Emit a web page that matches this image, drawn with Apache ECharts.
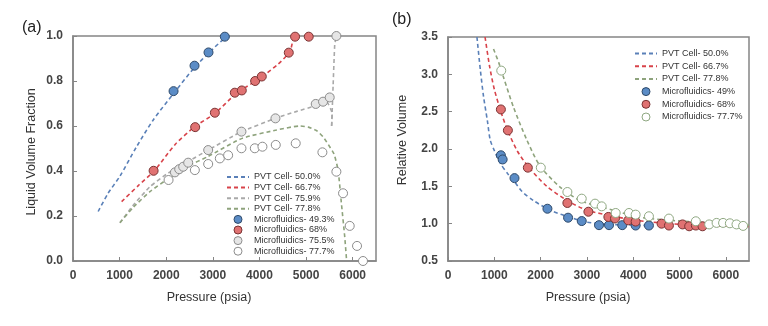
<!DOCTYPE html>
<html>
<head>
<meta charset="utf-8">
<script src="https://cdn.jsdelivr.net/npm/echarts@6/dist/echarts.min.js"></script>
<style>
html,body{margin:0;padding:0;background:#fff;}
#chart{width:768px;height:326px;}
</style>
</head>
<body>
<div id="chart"></div>
<script>
// ---------- Panel (a): Liquid Volume Fraction ----------
const xTicks = [0, 1000, 2000, 3000, 4000, 5000, 6000];
const pvt50a = [[540,0.22],[750,0.30],[1007,0.377],[1364,0.508],[1721,0.627],[2186,0.752],[2614,0.862],[2914,0.925],[3257,0.99],[3400,1.0]];
const pvt667a = [[1043,0.264],[1400,0.335],[1757,0.404],[2200,0.52],[2614,0.597],[3043,0.656],[3507,0.745],[4007,0.812],[4400,0.875],[4650,0.93],[4700,0.965],[4730,1.0]];
const pvt759a = [[1007,0.17],[1300,0.25],[1650,0.33],[2000,0.385],[2450,0.44],[2900,0.493],[3614,0.575],[4343,0.634],[4800,0.665],[5207,0.69],[5430,0.71],[5560,0.655],[5548,0.6]];
const pvt759aTop = [[5548,0.6],[5580,0.78],[5614,0.96],[5650,1.0]];
const pvt778a = [[1007,0.17],[1300,0.24],[1650,0.308],[2000,0.36],[2450,0.42],[2900,0.465],[3629,0.545],[4364,0.582],[4864,0.60],[5050,0.595],[5221,0.58],[5364,0.552],[5500,0.51],[5600,0.475],[5686,0.404],[5757,0.258],[5829,0.108],[5870,0.0]];

const mf493aP = [2157, 2607, 2907, 3257];
const mf493aV = [0.755, 0.868, 0.927, 0.997];
const mf68aP = [1729, 2621, 3043, 3471, 3621, 3907, 4050, 4629, 4764, 5057];
const mf68aV = [0.401, 0.595, 0.659, 0.748, 0.758, 0.800, 0.820, 0.926, 0.997, 0.997];
const mf755aP = [2186, 2278, 2364, 2471, 2900, 3614, 4343, 5207, 5364, 5507, 5650];
const mf755aV = [0.394, 0.408, 0.419, 0.437, 0.493, 0.575, 0.634, 0.698, 0.708, 0.727, 1.0];
const mf777aP = [2050, 2614, 2900, 3150, 3328, 3614, 3900, 4064, 4350, 4778, 5350, 5650, 5793, 5936, 6093, 6221];
const mf777aV = [0.36, 0.404, 0.431, 0.456, 0.47, 0.501, 0.501, 0.508, 0.516, 0.523, 0.483, 0.397, 0.301, 0.156, 0.067, 0.0];

// ---------- Panel (b): Relative Volume ----------
const pvt50b = [[625,3.5],[700,3.05],[768,2.70],[850,2.38],[912,2.12],[1000,1.98],[1127,1.81],[1300,1.66],[1414,1.58],[1600,1.43],[1845,1.31],[2205,1.18],[2708,1.07],[2996,1.02],[3500,0.99],[4400,0.975]];
const pvt667b = [[800,3.5],[900,3.1],[1000,2.8],[1142,2.5],[1293,2.24],[1500,1.97],[1738,1.76],[2134,1.50],[2600,1.30],[3000,1.18],[3570,1.10],[4000,1.05],[4600,1.01],[5200,0.985],[6500,0.96]];
const pvt778b = [[983,3.34],[1100,3.15],[1199,2.96],[1414,2.56],[1703,2.12],[1990,1.77],[2421,1.49],[2852,1.31],[3570,1.18],[4100,1.09],[4795,1.045],[5940,1.0],[6500,0.98]];

const mf49bP = [1142, 1180, 1436, 2147, 2593, 2888, 3261, 3477, 3763, 4052, 4339];
const mf49bV = [1.916, 1.86, 1.61, 1.20, 1.08, 1.035, 0.98, 0.98, 0.98, 0.975, 0.975];
const mf68bP = [1142, 1293, 1724, 2578, 3032, 3463, 3606, 3893, 4052, 4612, 4771, 5065, 5208, 5352, 5496];
const mf68bV = [2.53, 2.25, 1.75, 1.277, 1.16, 1.09, 1.07, 1.045, 1.028, 1.0, 0.975, 0.99, 0.965, 0.975, 0.965];
const mf777bP = [1150, 2004, 2578, 2888, 3175, 3319, 3621, 3908, 4052, 4339, 4771, 5352, 5640, 5800, 5940, 6087, 6230, 6373];
const mf777bV = [3.05, 1.75, 1.424, 1.335, 1.268, 1.232, 1.143, 1.143, 1.121, 1.099, 1.068, 1.032, 0.99, 1.01, 1.01, 1.005, 0.99, 0.97];

const zip = (p, v) => p.map((x, i) => [x, v[i]]);

const C = {
  blueL: '#5a80b8', redL: '#d8434a', grayL: '#a9a9a9', greenL: '#8ea37c',
  blueF: '#5b8cc6', blueB: '#2f4a6a', redF: '#e07272', redB: '#7a3434',
  grayF: '#e6e6e6', grayB: '#8c8c8c', whiteF: '#ffffff', greenB: '#8fa882'
};
const FONT = 'Liberation Sans, Arial, sans-serif';
const dash = [4, 3];

function lineS(name, data, color, xi, extra) {
  return Object.assign({
    name, type: 'line', data, xAxisIndex: xi, yAxisIndex: xi,
    symbol: 'none', smooth: 0.25, z: 2, silent: true,
    lineStyle: { color, width: 1.6, type: dash }, itemStyle: { color }
  }, extra || {});
}
function scatS(name, data, fill, border, xi) {
  return {
    name, type: 'scatter', data, xAxisIndex: xi, yAxisIndex: xi,
    symbol: 'circle', symbolSize: 9, z: 5, silent: true,
    itemStyle: { color: fill, borderColor: border, borderWidth: 1, opacity: 1 }
  };
}
function xAx(gi) {
  return {
    type: 'value', gridIndex: gi, min: 0, max: 6500, interval: 1000,
    axisLine: { show: true, onZero: false, lineStyle: { color: '#858585', width: 1.5 } },
    axisTick: { show: true, inside: true, length: 4, lineStyle: { color: '#858585' } },
    axisLabel: { showMaxLabel: false, fontFamily: FONT, fontSize: 12, color: '#444', margin: 9, fontWeight: 'bold',
      formatter: v => String(v) },
    splitLine: { show: false }
  };
}
function yAx(gi, min, max, interval) {
  return {
    type: 'value', gridIndex: gi, min, max, interval,
    axisLine: { show: true, onZero: false, lineStyle: { color: '#858585', width: 1.5 } },
    axisTick: { show: true, inside: true, length: 4, lineStyle: { color: '#858585' } },
    axisLabel: { fontFamily: FONT, fontSize: 12, color: '#444', margin: 10, fontWeight: 'bold',
      formatter: v => v.toFixed(1) },
    splitLine: { show: false }
  };
}
const legText = { fontFamily: FONT, fontSize: 9, color: '#333' };
const noSym = { opacity: 0 };

const option = {
  animation: false,
  backgroundColor: '#fff',
  grid: [
    { left: 73, right: 392, top: 36, bottom: 65, show: true, borderColor: '#858585', borderWidth: 1.5 },
    { left: 448, right: 19, top: 37, bottom: 65, show: true, borderColor: '#858585', borderWidth: 1.5 }
  ],
  xAxis: [xAx(0), xAx(1)],
  yAxis: [yAx(0, 0, 1, 0.2), yAx(1, 0.5, 3.5, 0.5)],
  legend: [
    {
      orient: 'vertical', left: 221, top: 167, itemWidth: 22, itemHeight: 8, itemGap: 0.6,
      textStyle: Object.assign({ lineHeight: 10 }, legText), selectedMode: false,
      data: [
        { name: 'PVT Cell- 50.0%', itemStyle: noSym }, { name: 'PVT Cell- 66.7%', itemStyle: noSym },
        { name: 'PVT Cell- 75.9%', itemStyle: noSym }, { name: 'PVT Cell- 77.8%', itemStyle: noSym },
        { name: 'Microfluidics- 49.3%', itemStyle: { color: C.blueF, borderColor: C.blueB, borderWidth: 1 } },
        { name: 'Microfluidics- 68%', itemStyle: { color: C.redF, borderColor: C.redB, borderWidth: 1 } },
        { name: 'Microfluidics- 75.5%', itemStyle: { color: C.grayF, borderColor: C.grayB, borderWidth: 1 } },
        { name: 'Microfluidics- 77.7%', itemStyle: { color: C.whiteF, borderColor: C.grayB, borderWidth: 1 } }
      ]
    },
    {
      orient: 'vertical', left: 629, top: 42.5, itemWidth: 22, itemHeight: 8, itemGap: 0.7,
      textStyle: Object.assign({ lineHeight: 12 }, legText), selectedMode: false,
      data: [
        { name: 'PVT Cell- 50.0%', itemStyle: noSym }, { name: 'PVT Cell- 66.7%', itemStyle: noSym },
        { name: 'PVT Cell- 77.8%', itemStyle: noSym, lineStyle: { color: C.greenL } },
        { name: 'Microfluidics- 49%', itemStyle: { color: C.blueF, borderColor: C.blueB, borderWidth: 1 } },
        { name: 'Microfluidics- 68%', itemStyle: { color: C.redF, borderColor: C.redB, borderWidth: 1 } },
        { name: 'Microfluidics- 77.7%', itemStyle: { color: C.whiteF, borderColor: C.greenB, borderWidth: 1 } }
      ]
    }
  ],
  graphic: [
    { type: 'text', left: 22, top: 20, style: { text: '(a)', font: '16px ' + FONT, fill: '#222' } },
    { type: 'text', left: 392, top: 12, style: { text: '(b)', font: '16px ' + FONT, fill: '#222' } },
    { type: 'text', x: 209, y: 298, style: { text: 'Pressure (psia)', font: '12.5px ' + FONT, fill: '#333', align: 'center', verticalAlign: 'middle' } },
    { type: 'text', x: 588, y: 298, style: { text: 'Pressure (psia)', font: '12.5px ' + FONT, fill: '#333', align: 'center', verticalAlign: 'middle' } },
    { type: 'text', x: 32, y: 152, rotation: Math.PI / 2, style: { text: 'Liquid Volume Fraction', font: '12.5px ' + FONT, fill: '#333', align: 'center', verticalAlign: 'middle' } },
    { type: 'text', x: 403, y: 140, rotation: Math.PI / 2, style: { text: 'Relative Volume', font: '12.5px ' + FONT, fill: '#333', align: 'center', verticalAlign: 'middle' } }
  ],
  series: [
    lineS('PVT Cell- 50.0%', pvt50a, C.blueL, 0),
    lineS('PVT Cell- 66.7%', pvt667a, C.redL, 0),
    lineS('PVT Cell- 75.9%', pvt759a, C.grayL, 0, { smooth: 0.15 }),
    lineS('PVT Cell- 75.9%', pvt759aTop, C.grayL, 0, { smooth: 0.1 }),
    lineS('PVT Cell- 77.8%', pvt778a, C.greenL, 0, { smooth: 0.2 }),
    scatS('Microfluidics- 49.3%', zip(mf493aP, mf493aV), C.blueF, C.blueB, 0),
    scatS('Microfluidics- 68%', zip(mf68aP, mf68aV), C.redF, C.redB, 0),
    scatS('Microfluidics- 75.5%', zip(mf755aP, mf755aV), C.grayF, C.grayB, 0),
    scatS('Microfluidics- 77.7%', zip(mf777aP, mf777aV), C.whiteF, C.grayB, 0),

    lineS('PVT Cell- 50.0%', pvt50b, C.blueL, 1),
    lineS('PVT Cell- 66.7%', pvt667b, C.redL, 1),
    lineS('PVT Cell- 77.8%', pvt778b, C.greenL, 1),
    scatS('Microfluidics- 49%', zip(mf49bP, mf49bV), C.blueF, C.blueB, 1),
    scatS('Microfluidics- 68%', zip(mf68bP, mf68bV), C.redF, C.redB, 1),
    scatS('Microfluidics- 77.7%', zip(mf777bP, mf777bV), C.whiteF, C.greenB, 1)
  ]
};

const chart = echarts.init(document.getElementById('chart'), null, { renderer: 'canvas' });
chart.setOption(option);
</script>
</body>
</html>
